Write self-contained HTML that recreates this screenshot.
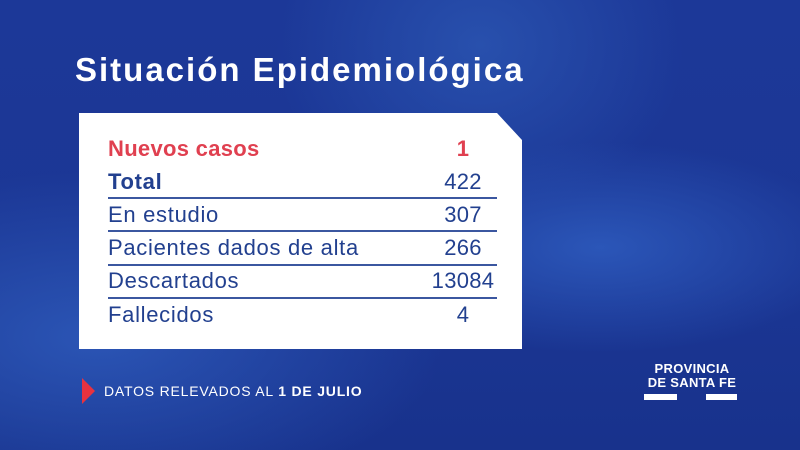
<!DOCTYPE html>
<html><head><style>
body{margin:0;width:800px;height:450px;overflow:hidden;font-family:"Liberation Sans",sans-serif;}
#bg{position:absolute;left:0;top:0;width:800px;height:450px;
background:radial-gradient(ellipse at 12% 75%,#2b55b5 0%,rgba(40,80,170,0) 35%),
radial-gradient(ellipse at 75% 55%,#2b56b8 0%,rgba(40,80,170,0) 30%),
radial-gradient(ellipse at 60% 10%,#2850ad 0%,rgba(40,80,170,0) 30%),
linear-gradient(180deg,#1c3898 0%,#1b3694 60%,#18328c 100%);}
.t{position:absolute;white-space:nowrap;}
#card{position:absolute;left:79px;top:113px;width:443px;height:236px;background:#fff;
clip-path:polygon(0 0,418px 0,443px 27px,443px 236px,0 236px);}
.row{position:absolute;left:29px;width:388px;font-size:22px;color:#22408f;line-height:26px;letter-spacing:0.7px;}
.row span{position:absolute;left:355px;transform:translateX(-50%);letter-spacing:0.3px;}
.ln{position:absolute;left:29px;width:389px;height:2px;background:#3b57a0;}
</style></head><body>
<div id="bg"></div>
<div class="t" style="left:75px;top:51px;font-size:33px;font-weight:bold;color:#fff;letter-spacing:2px;">Situación Epidemiológica</div>
<div id="card">
<div class="row" style="top:23px;color:#e04050;font-weight:bold;letter-spacing:0.3px;">Nuevos casos<span>1</span></div>
<div class="row" style="top:56px;font-weight:bold;">Total<span style="font-weight:normal">422</span></div>
<div class="ln" style="top:84px"></div>
<div class="row" style="top:89px;">En estudio<span>307</span></div>
<div class="ln" style="top:117px"></div>
<div class="row" style="top:122px;">Pacientes dados de alta<span>266</span></div>
<div class="ln" style="top:151px"></div>
<div class="row" style="top:155px;">Descartados<span>13084</span></div>
<div class="ln" style="top:184px"></div>
<div class="row" style="top:189px;">Fallecidos<span>4</span></div>
</div>
<div style="position:absolute;left:82px;top:378px;width:0;height:0;border-top:13px solid transparent;border-bottom:13px solid transparent;border-left:13px solid #e8323f;"></div>
<div class="t" style="left:104px;top:383px;font-size:14px;color:#fff;letter-spacing:0.8px;">DATOS RELEVADOS AL <b>1 DE JULIO</b></div>
<div class="t" style="left:646px;top:362px;font-size:13px;font-weight:bold;color:#fff;line-height:14px;text-align:center;width:92px;letter-spacing:0.3px;">PROVINCIA<br>DE SANTA FE</div>
<div style="position:absolute;left:644px;top:394px;width:33px;height:6px;background:#fff"></div>
<div style="position:absolute;left:706px;top:394px;width:31px;height:6px;background:#fff"></div>
</body></html>
